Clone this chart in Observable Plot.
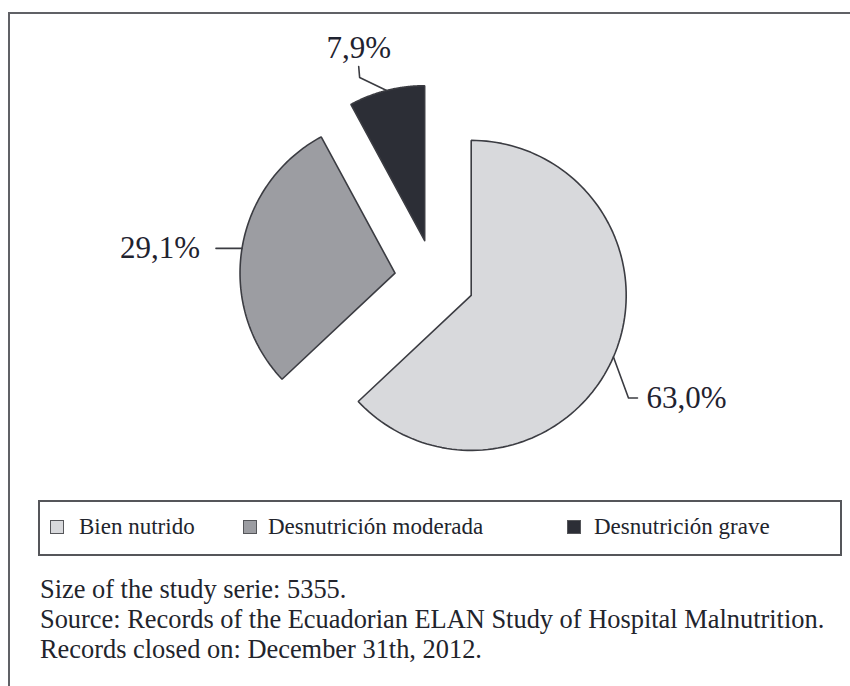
<!DOCTYPE html>
<html>
<head>
<meta charset="utf-8">
<script src="https://cdn.jsdelivr.net/npm/d3@7"></script>
<script src="https://cdn.jsdelivr.net/npm/@observablehq/plot@0.6"></script>
<style>
  html, body { margin: 0; padding: 0; background: #fff; width: 850px; height: 686px; overflow: hidden; }
  #frame { position: absolute; left: 8px; top: 12px; width: 900px; height: 700px;
           border-top: 2.5px solid #606166; border-left: 2.5px solid #606166; z-index: 2; pointer-events: none; }
  #chart { position: absolute; left: 0; top: 0; z-index: 1; }
  #legend { position: absolute; left: 38px; top: 500px; width: 800px; height: 52px;
            border: 2px solid #55565a; box-sizing: content-box;
            font-family: "Liberation Serif", serif; font-size: 23px; color: #22242c; }
  .item { position: absolute; top: 12px; line-height: 26px; white-space: nowrap; }
  .sw { position: absolute; top: 18px; width: 12px; height: 12px; border: 1.5px solid #55565a; }
  #notes { position: absolute; left: 40px; top: 574px; font-family: "Liberation Serif", serif;
           font-size: 26.4px; line-height: 30px; color: #22242c; white-space: nowrap; }
</style>
</head>
<body>
<div id="frame"></div>
<div id="chart"></div>
<div id="legend"></div>
<div id="notes">Size of the study serie: 5355.<br>Source: Records of the Ecuadorian ELAN Study of Hospital Malnutrition.<br>Records closed on: December 31th, 2012.</div>
<script>
// ---- data ----
const categories = ["Bien nutrido", "Desnutrición moderada", "Desnutrición grave"];
const percents = [63.0, 29.1, 7.9];
const valueLabels = ["63,0%", "29,1%", "7,9%"];
const colors = ["#d8d9dc", "#9c9da2", "#2c2e36"];

// ---- layout (pie units: radius = 1) ----
const PX = 155, CX = 434, CY = 279, W = 850, H = 490;
const EXPLODE = 0.258;
// leader geometry relative to the arc point at each slice's mid angle
const leaders = [
  {elbow: [0.097, -0.265], end: [0.155, -0.265], anchor: "start", lineAnchor: "middle", dx: 9, dy: 0},
  {elbow: [-0.084, 0.0], end: [-0.168, 0.0], anchor: "end", lineAnchor: "middle", dx: -16, dy: 0},
  {elbow: [-0.174, 0.084], end: [-0.18, 0.155], anchor: "middle", lineAnchor: "bottom", dx: 0, dy: -8}
];

const data = categories.map((c, i) => ({name: c, value: percents[i], label: valueLabels[i]}));
const arcs = d3.pie().sort(null).value(d => d.value)(data);

const polys = [];
const leaderPts = [];
const labelPts = [];
arcs.forEach((a, i) => {
  const mid = (a.startAngle + a.endAngle) / 2;
  const cx = EXPLODE * Math.sin(mid), cy = EXPLODE * Math.cos(mid);
  const name = a.data.name;
  polys.push({name, x: cx, y: cy});
  const N = 120;
  for (let k = 0; k <= N; k++) {
    const ang = a.startAngle + (a.endAngle - a.startAngle) * k / N;
    polys.push({name, x: cx + Math.sin(ang), y: cy + Math.cos(ang)});
  }
  polys.push({name, x: cx, y: cy});
  const px = cx + Math.sin(mid), py = cy + Math.cos(mid);
  const L = leaders[i];
  leaderPts.push({name, x: px, y: py});
  leaderPts.push({name, x: px + L.elbow[0], y: py + L.elbow[1]});
  leaderPts.push({name, x: px + L.end[0], y: py + L.end[1]});
  labelPts.push({label: a.data.label, x: px + L.end[0], y: py + L.end[1], ...L});
});

const textMarks = labelPts.map(d => Plot.text([d], {
  x: "x", y: "y", text: "label", textAnchor: d.anchor, lineAnchor: d.lineAnchor,
  dx: d.dx, dy: d.dy, fontSize: 31, fill: "#1f2330", fontFamily: "Liberation Serif"
}));

const plot = Plot.plot({
  width: W, height: H,
  margin: 0,
  x: {domain: [-CX / PX, (W - CX) / PX], axis: null},
  y: {domain: [-(H - CY) / PX, CY / PX], axis: null},
  color: {domain: categories, range: colors},
  style: {background: "transparent", fontFamily: "Liberation Serif"},
  marks: [
    Plot.line(polys, {x: "x", y: "y", z: "name", fill: "name", stroke: "#3b3c42", strokeWidth: 1.6, curve: "linear", strokeLinejoin: "miter"}),
    Plot.line(leaderPts, {x: "x", y: "y", z: "name", stroke: "#3b3c42", strokeWidth: 1.6, curve: "linear"}),
    ...textMarks
  ]
});
document.getElementById("chart").appendChild(plot);

// legend
const legendLeft = [[10, 39], [203, 228], [527, 554]];
const legend = document.getElementById("legend");
categories.forEach((c, i) => {
  const sw = document.createElement("div");
  sw.className = "sw";
  sw.style.left = legendLeft[i][0] + "px";
  sw.style.background = colors[i];
  legend.appendChild(sw);
  const t = document.createElement("div");
  t.className = "item";
  t.style.left = legendLeft[i][1] + "px";
  t.textContent = c;
  legend.appendChild(t);
});
</script>
</body>
</html>
